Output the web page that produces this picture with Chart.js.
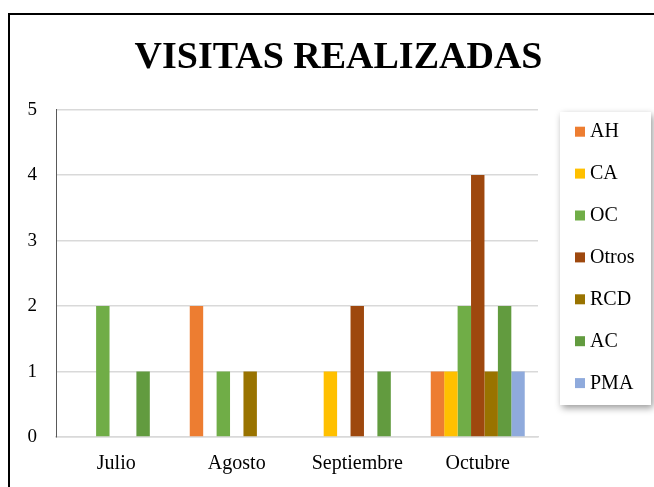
<!DOCTYPE html>
<html>
<head>
<meta charset="utf-8">
<script src="https://cdn.jsdelivr.net/npm/chart.js@4"></script>
<style>
    html, body { margin: 0; padding: 0; background: #fff; overflow: hidden; }
    #frame {
        position: absolute; left: 8px; top: 13px;
        width: 661px; height: 500px;
        border: 2px solid #000; box-sizing: border-box;
    }
    #chart { display: block; }
</style>
</head>
<body>
<div id="frame"><canvas id="chart" width="657" height="472"></canvas></div>
<script>
const months = ['Julio', 'Agosto', 'Septiembre', 'Octubre'];
const yTicks = [0, 1, 2, 3, 4, 5];

const seriesNames = ['AH', 'CA', 'OC', 'Otros', 'RCD', 'AC', 'PMA'];
const seriesColors = ['#ED7D31', '#FFC000', '#70AD47', '#9E480E', '#997300', '#629B3F', '#8FAADC'];

const ah    = [null, 2, null, 1];
const ca    = [null, null, 1, 1];
const oc    = [2, 1, null, 2];
const otros = [null, null, 2, 4];
const rcd   = [null, 1, null, 1];
const ac    = [1, null, 1, 2];
const pma   = [null, null, null, 1];

const seriesValues = [ah, ca, oc, otros, rcd, ac, pma];

const serif = '"Liberation Serif", "Times New Roman", serif';

// legend drawn by hand so it sits in a boxed panel like the original
const legendPanel = {
    id: 'legendPanel',
    afterDraw(chart) {
        const ctx = chart.ctx;
        ctx.save();
        ctx.shadowColor = 'rgba(0,0,0,0.4)';
        ctx.shadowBlur = 7;
        ctx.shadowOffsetX = 2;
        ctx.shadowOffsetY = 3;
        ctx.fillStyle = '#fff';
        ctx.fillRect(550, 97, 91, 293);
        ctx.restore();

        ctx.save();
        ctx.font = '20px ' + serif;
        ctx.textBaseline = 'middle';
        chart.data.datasets.forEach((ds, i) => {
            const y = 111.7 + i * 41.9;
            ctx.fillStyle = ds.backgroundColor;
            ctx.fillRect(565, y, 10, 10);
            ctx.fillStyle = '#000';
            ctx.fillText(ds.label, 580, y + 5.5);
        });
        ctx.restore();
    }
};

new Chart(document.getElementById('chart'), {
    type: 'bar',
    data: {
        labels: months,
        datasets: seriesNames.map((name, i) => ({
            label: name,
            data: seriesValues[i],
            backgroundColor: seriesColors[i],
            categoryPercentage: 0.78,
            barPercentage: 1
        }))
    },
    options: {
        responsive: false,
        animation: false,
        layout: { padding: 0 },
        plugins: {
            legend: { display: false },
            tooltip: { enabled: false },
            title: {
                display: true,
                text: 'VISITAS REALIZADAS',
                color: '#000',
                font: { family: serif, size: 38, weight: 'bold' },
                padding: { top: 20, bottom: 29 }
            }
        },
        scales: {
            x: {
                grid: { display: false, drawTicks: false },
                border: { display: true, color: '#d9d9d9', width: 1.5 },
                ticks: { color: '#000', font: { family: serif, size: 20 }, padding: 15, maxRotation: 0 },
                afterFit(scale) { scale.height = 50; }
            },
            y: {
                min: 0,
                max: 5,
                afterBuildTicks(scale) { scale.ticks = yTicks.map(v => ({ value: v })); },
                grid: { color: '#d9d9d9', lineWidth: 1.5, drawTicks: false },
                border: { display: true, color: '#595959', width: 1 },
                ticks: { color: '#000', font: { family: serif, size: 19 }, padding: 19 },
                afterFit(scale) { scale.width = 46; }
            },
            // empty axis that only keeps room on the right for the legend panel
            side: {
                position: 'right',
                display: true,
                grid: { display: false, drawTicks: false },
                border: { display: false },
                ticks: { display: false },
                afterFit(scale) { scale.width = 129; }
            }
        }
    },
    plugins: [legendPanel]
});
</script>
</body>
</html>
